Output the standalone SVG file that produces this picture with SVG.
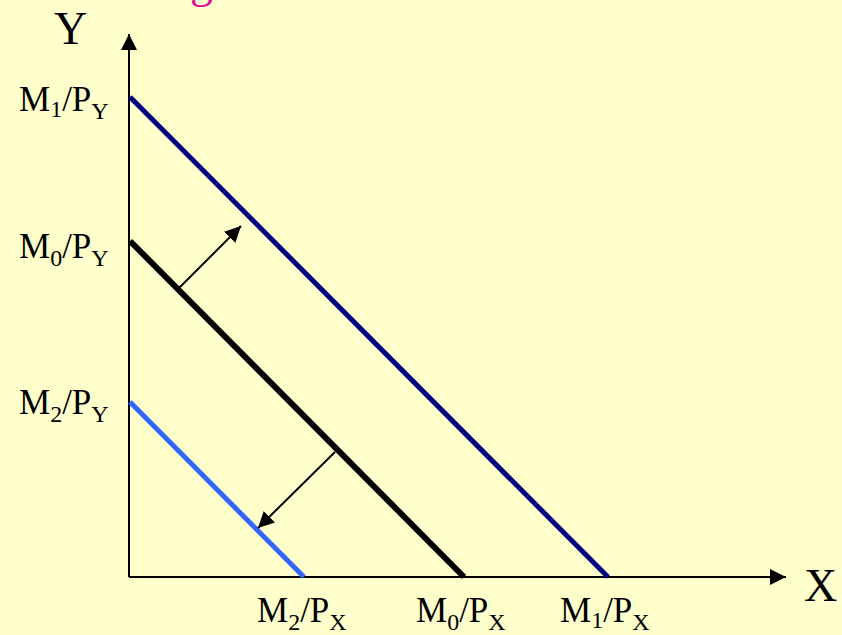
<svg xmlns="http://www.w3.org/2000/svg" width="842" height="635" viewBox="0 0 842 635">
<defs>
<style>
.lbl{font-family:"Liberation Serif","Times New Roman",serif;font-size:35px;fill:#000}
.sub{font-size:24px}
.ax{font-family:"Liberation Serif","Times New Roman",serif;font-size:46px;fill:#000}
</style>
<marker id="ah2" viewBox="0 0 10 10" refX="10" refY="5" markerWidth="16" markerHeight="16" markerUnits="userSpaceOnUse" orient="auto"><path d="M0,0 L10,5 L0,10 z" fill="#000"/></marker>
</defs>
<rect width="842" height="635" fill="#FFFFCC"/>
<text x="190" y="-3" style="font-family:'Liberation Serif',serif;font-size:46px;fill:#E0109C">g</text>
<text x="50" y="668" class="ax">K</text>
<g id="axes">
<line x1="129" y1="577" x2="129" y2="34" stroke="#000" stroke-width="2" marker-end="url(#ah2)"/>
<line x1="129" y1="577" x2="786" y2="577" stroke="#000" stroke-width="2" marker-end="url(#ah2)"/>
</g>
<g id="labels">
<text x="54" y="44" class="ax">Y</text>
<text x="804" y="601" class="ax">X</text>
<text x="19" y="111" class="lbl">M<tspan class="sub" dy="6">1</tspan><tspan dy="-6">/P</tspan><tspan class="sub" dy="8">Y</tspan></text>
<text x="19" y="258" class="lbl">M<tspan class="sub" dy="8">0</tspan><tspan dy="-8">/P</tspan><tspan class="sub" dy="8">Y</tspan></text>
<text x="19" y="414" class="lbl">M<tspan class="sub" dy="8">2</tspan><tspan dy="-8">/P</tspan><tspan class="sub" dy="8">Y</tspan></text>
<text x="257" y="622" class="lbl">M<tspan class="sub" dy="8">2</tspan><tspan dy="-8">/P</tspan><tspan class="sub" dy="8">X</tspan></text>
<text x="416" y="622" class="lbl">M<tspan class="sub" dy="8">0</tspan><tspan dy="-8">/P</tspan><tspan class="sub" dy="8">X</tspan></text>
<text x="560" y="622" class="lbl">M<tspan class="sub" dy="6">1</tspan><tspan dy="-6">/P</tspan><tspan class="sub" dy="8">X</tspan></text>
</g>
<g id="budget-lines">
<line id="m1" x1="130" y1="97" x2="608" y2="577" stroke="#000080" stroke-width="5"/>
<line id="m0" x1="130" y1="241" x2="464" y2="577" stroke="#000" stroke-width="6"/>
<line id="m2" x1="130" y1="402" x2="304" y2="577" stroke="#3366FF" stroke-width="5"/>
</g>
<g id="connectors">
<line x1="179" y1="288" x2="241" y2="226" stroke="#000" stroke-width="2" marker-end="url(#ah2)"/>
<line x1="335" y1="452" x2="258" y2="528" stroke="#000" stroke-width="2" marker-end="url(#ah2)"/>
</g>
</svg>
